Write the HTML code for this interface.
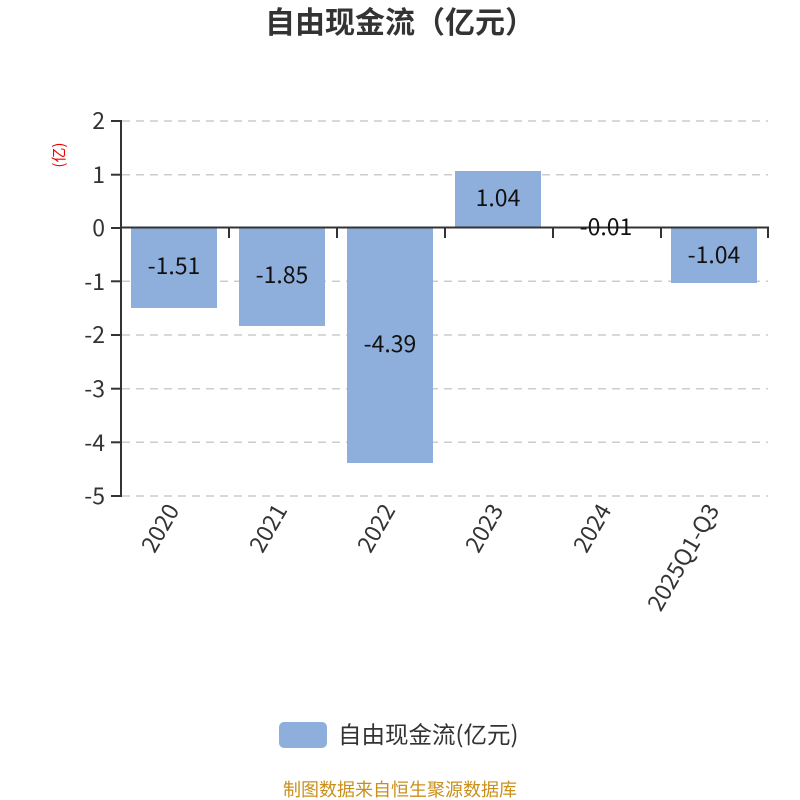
<!DOCTYPE html>
<html><head><meta charset="utf-8"><style>
html,body{margin:0;padding:0;background:#fff;}
svg{display:block;font-family:"Noto Sans CJK SC","Liberation Sans",sans-serif;}
</style></head><body>
<svg width="800" height="800" viewBox="0 0 800 800">
<text x="400" y="33" text-anchor="middle" font-size="30" font-weight="bold" fill="#333">自由现金流（亿元）</text>
<text transform="translate(64,155) rotate(-90)" text-anchor="middle" font-size="15" fill="#e00">(亿)</text>
<g stroke="#ccc" stroke-width="1.5" stroke-dasharray="8,6">
<line x1="122" y1="121" x2="768" y2="121"/>
<line x1="122" y1="174.7" x2="768" y2="174.7"/>
<line x1="122" y1="281.3" x2="768" y2="281.3"/>
<line x1="122" y1="335" x2="768" y2="335"/>
<line x1="122" y1="388.7" x2="768" y2="388.7"/>
<line x1="122" y1="442.3" x2="768" y2="442.3"/>
<line x1="122" y1="496" x2="768" y2="496"/>
</g>
<g fill="#8eaedb">
<rect x="131" y="228" width="86" height="80"/>
<rect x="239" y="228" width="86" height="98"/>
<rect x="347" y="228" width="86" height="235"/>
<rect x="455" y="171" width="86" height="56"/>
<rect x="563" y="227" width="86" height="1"/>
<rect x="671" y="228" width="86" height="55"/>
</g>
<g stroke="#333" stroke-width="2" fill="none">
<line x1="121" y1="120" x2="121" y2="497"/>
<line x1="120" y1="227.5" x2="769" y2="227.5"/>
<line x1="111" y1="121" x2="121" y2="121"/>
<line x1="111" y1="174.7" x2="121" y2="174.7"/>
<line x1="111" y1="228" x2="121" y2="228"/>
<line x1="111" y1="281.3" x2="121" y2="281.3"/>
<line x1="111" y1="335" x2="121" y2="335"/>
<line x1="111" y1="388.7" x2="121" y2="388.7"/>
<line x1="111" y1="442.3" x2="121" y2="442.3"/>
<line x1="111" y1="496" x2="121" y2="496"/>
<line x1="229" y1="228" x2="229" y2="238"/>
<line x1="337" y1="228" x2="337" y2="238"/>
<line x1="445" y1="228" x2="445" y2="238"/>
<line x1="553" y1="228" x2="553" y2="238"/>
<line x1="661" y1="228" x2="661" y2="238"/>
<line x1="768" y1="228" x2="768" y2="238"/>
</g>
<g font-size="23" fill="#333" text-anchor="end">
<text x="105" y="129">2</text>
<text x="105" y="183">1</text>
<text x="105" y="236">0</text>
<text x="105" y="290">-1</text>
<text x="105" y="343">-2</text>
<text x="105" y="397">-3</text>
<text x="105" y="451">-4</text>
<text x="105" y="504">-5</text>
</g>
<g font-size="23" fill="#111" text-anchor="middle">
<text x="174" y="274">-1.51</text>
<text x="282" y="283">-1.85</text>
<text x="390" y="352">-4.39</text>
<text x="498" y="206">1.04</text>
<text x="606" y="235">-0.01</text>
<text x="714" y="263">-1.04</text>
</g>
<g font-size="23" fill="#333" text-anchor="end">
<text transform="translate(180,510) rotate(-60)">2020</text>
<text transform="translate(288,510) rotate(-60)">2021</text>
<text transform="translate(396,510) rotate(-60)">2022</text>
<text transform="translate(504,510) rotate(-60)">2023</text>
<text transform="translate(612,510) rotate(-60)">2024</text>
<text transform="translate(720,510) rotate(-60)">2025Q1-Q3</text>
</g>
<rect x="279" y="722" width="48" height="26" rx="5" fill="#8eaedb"/>
<text x="338" y="743" font-size="23.5" fill="#333">自由现金流(亿元)</text>
<text x="400" y="796" text-anchor="middle" font-size="18" fill="#c8901a">制图数据来自恒生聚源数据库</text>
</svg>
</body></html>
